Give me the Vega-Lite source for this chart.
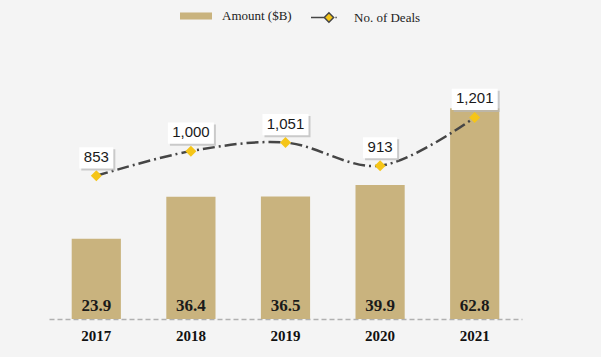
{
  "$schema": "https://vega.github.io/schema/vega-lite/v6.json",
  "width": 473,
  "height": 235,
  "autosize": {"type": "none"},
  "padding": {"left": 49, "top": 84, "right": 79, "bottom": 38},
  "background": "#f4f4f4",
  "data": {
    "values": [
      {"year": "2017", "amount": 23.9, "deals": 853},
      {"year": "2018", "amount": 36.4, "deals": 1000},
      {"year": "2019", "amount": 36.5, "deals": 1051},
      {"year": "2020", "amount": 39.9, "deals": 913},
      {"year": "2021", "amount": 62.8, "deals": 1201}
    ]
  },
  "encoding": {
    "x": {
      "field": "year",
      "type": "ordinal",
      "scale": {"paddingInner": 0.48, "paddingOuter": 0.24},
      "axis": {
        "title": null,
        "labelAngle": 0,
        "labelFont": "Liberation Serif",
        "labelFontWeight": "bold",
        "labelFontSize": 15,
        "labelColor": "#111111",
        "labelBaseline": "alphabetic",
        "labelPadding": 21,
        "ticks": false,
        "domainDash": [5, 3],
        "domainColor": "#b0b0b0",
        "domainWidth": 1.5
      }
    }
  },
  "layer": [
    {
      "encoding": {
        "y": {"field": "amount", "type": "quantitative", "scale": {"domain": [0, 70]}, "axis": null}
      },
      "layer": [
        {
          "mark": {"type": "bar"},
          "encoding": {
            "color": {
              "datum": "Amount ($B)",
              "scale": {"range": ["#c9b37e"]},
              "legend": {
                "title": null,
                "orient": "none",
                "legendX": 131,
                "legendY": -84,
                "symbolType": "M-1,-0.22H1V0.22H-1Z",
                "symbolSize": 1024,
                "symbolStrokeWidth": 0,
                "labelFont": "Liberation Serif",
                "labelFontSize": 13,
                "labelColor": "#222222",
                "labelOffset": 10
              }
            }
          }
        },
        {
          "mark": {"type": "text", "font": "Liberation Serif", "fontWeight": "bold", "fontSize": 17, "color": "#1a1a1a", "baseline": "alphabetic", "dy": -8},
          "encoding": {
            "y": {"datum": 0, "type": "quantitative"},
            "text": {"field": "amount", "type": "quantitative", "format": ".1f"}
          }
        }
      ]
    },
    {
      "encoding": {
        "y": {"field": "deals", "type": "quantitative", "scale": {"domain": [0, 1400]}, "axis": null}
      },
      "layer": [
        {
          "mark": {"type": "line", "interpolate": "catmull-rom", "strokeWidth": 2.5, "strokeDash": [12, 4, 2, 4]},
          "encoding": {
            "stroke": {
              "datum": "No. of Deals",
              "scale": {"range": ["#454545"]},
              "legend": {
                "title": null,
                "orient": "none",
                "legendX": 261,
                "legendY": -80.5,
                "symbolType": "M-1,0H0M0.02,0L0.38,-0.36L0.74,0L0.38,0.36ZM0.88,0H0.98",
                "symbolSize": 676,
                "labelFont": "Liberation Serif",
                "labelFontSize": 13,
                "labelColor": "#222222",
                "labelOffset": 16,
                "encode": {
                  "symbols": {
                    "update": {
                      "fill": {"value": "#f5c518"},
                      "stroke": {"value": "#454545"},
                      "strokeWidth": {"value": 1.5},
                      "strokeDash": {"value": []}
                    }
                  }
                }
              }
            }
          }
        },
        {
          "mark": {"type": "point", "shape": "diamond", "filled": true, "size": 121, "color": "#f5c518", "opacity": 1}
        },
        {
          "mark": {"type": "point", "filled": true, "color": "#b8b8b8", "opacity": 0.7, "size": 2116, "xOffset": 2, "yOffset": -16},
          "encoding": {
            "shape": {
              "condition": {"test": "datum.deals >= 1000", "value": "M-1,-0.46H1V0.46H-1Z"},
              "value": "M-0.74,-0.46H0.74V0.46H-0.74Z"
            }
          }
        },
        {
          "mark": {"type": "point", "filled": true, "color": "#ffffff", "opacity": 1, "size": 2116, "yOffset": -18},
          "encoding": {
            "shape": {
              "condition": {"test": "datum.deals >= 1000", "value": "M-1,-0.46H1V0.46H-1Z"},
              "value": "M-0.74,-0.46H0.74V0.46H-0.74Z"
            }
          }
        },
        {
          "mark": {"type": "text", "font": "Liberation Sans", "fontSize": 15, "color": "#1a1a1a", "baseline": "middle", "yOffset": -19},
          "encoding": {
            "text": {"field": "deals", "type": "quantitative", "format": ","}
          }
        }
      ]
    }
  ],
  "resolve": {"scale": {"y": "independent"}},
  "config": {"view": {"stroke": null}}
}
